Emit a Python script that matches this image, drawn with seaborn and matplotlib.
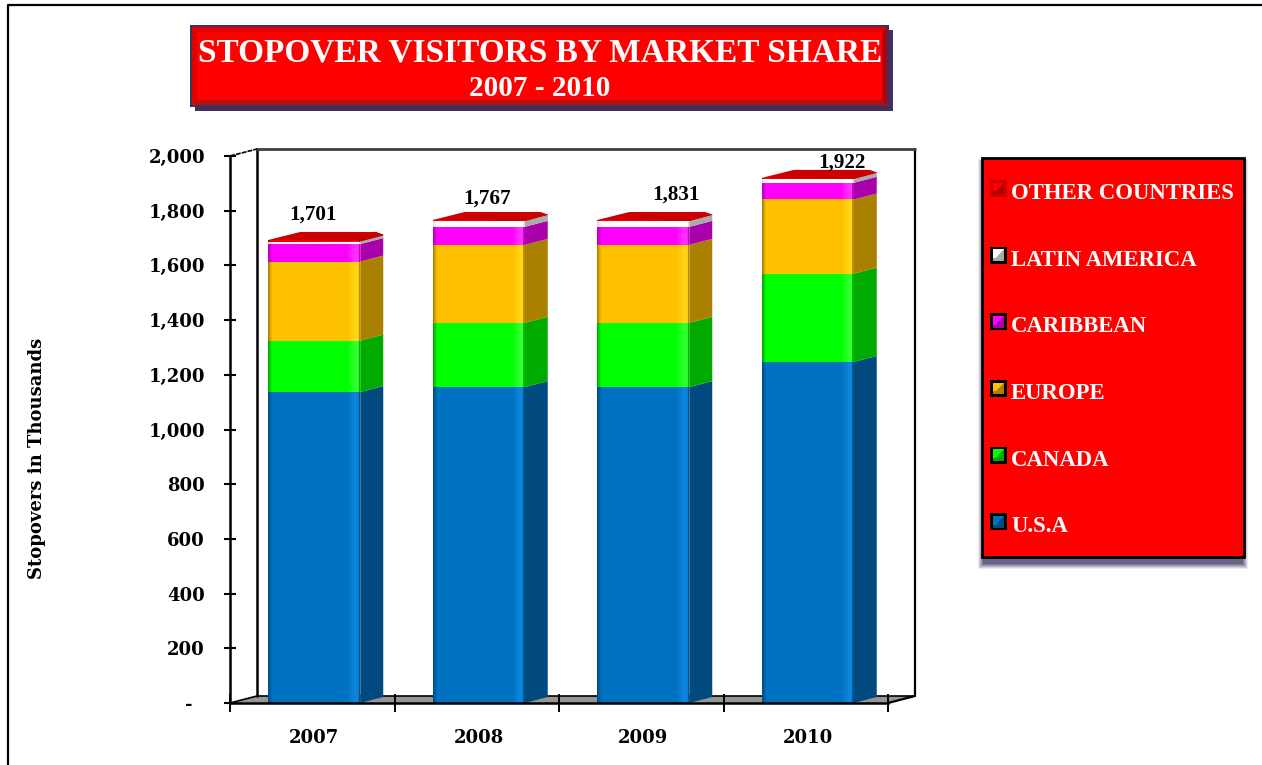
import matplotlib
matplotlib.use("Agg")
import matplotlib.pyplot as plt
import seaborn as sns
import numpy as np
import pandas as pd
from matplotlib.patches import Rectangle, Polygon, Patch
from matplotlib.legend_handler import HandlerBase

years = ["2007", "2008", "2009", "2010"]
usa = [1137, 1155, 1155, 1247]
canada = [188, 235, 235, 323]
europe = [289, 285, 285, 271]
caribbean = [64, 66, 66, 61]
latin_america = [9, 21, 21, 14]
other = [6, 4, 4, 4]
totals_labels = ["1,701", "1,767", "1,831", "1,922"]
series_names = ["U.S.A", "CANADA", "EUROPE", "CARIBBEAN", "LATIN AMERICA", "OTHER COUNTRIES"]
y_ticks = [0, 200, 400, 600, 800, 1000, 1200, 1400, 1600, 1800, 2000]
y_tick_labels = ["-\u00a0\u00a0", "200", "400", "600", "800", "1,000", "1,200", "1,400", "1,600", "1,800", "2,000"]

front = ["#0070C0", "#00FF00", "#FFC000", "#FF00FF", "#FFFFFF", "#FF0000"]
side = ["#004A80", "#00AA00", "#AA8000", "#AA00AA", "#AAAAAA", "#AA0000"]
hilite = ["#0C84DC", "#30FF30", "#FFD414", "#FF30FF", "#FFFFFF", "#FF2020"]
shade = ["#00406E", "#009000", "#8F6C00", "#A000A0", "#D0D0D0", "#A00000"]

W, H = 1262, 765
sns.set_theme(style="white")
serif = "Liberation Serif"
tickfont = "DejaVu Serif"
fig = plt.figure(figsize=(W / 100, H / 100), dpi=100, facecolor="white")

# page-level furniture, in pixel coordinates
bg = fig.add_axes([0, 0, 1, 1], zorder=0)
bg.set_xlim(0, W); bg.set_ylim(H, 0); bg.axis("off")
bg.plot([7.5, 7.5, W], [H, 4.5, 4.5], color="black", lw=1.6, solid_capstyle="butt")

# title box
NAVY = "#40305A"
bg.add_patch(Rectangle((195, 30), 698, 81, fc=NAVY, ec="none"))
bg.add_patch(Rectangle((190, 25), 699, 82, fc=NAVY, ec="none"))
bg.add_patch(Rectangle((192, 27), 695, 78, fc="#FF0000", ec="none"))
bg.add_patch(Polygon([(192, 27), (887, 27), (882, 32), (197, 32)], fc="#E60000", ec="none"))
bg.add_patch(Polygon([(192, 27), (197, 32), (197, 100), (192, 105)], fc="#E00000", ec="none"))
bg.add_patch(Polygon([(192, 105), (197, 100), (882, 100), (887, 105)], fc="#B81010", ec="none"))
bg.add_patch(Polygon([(887, 27), (882, 32), (882, 100), (887, 105)], fc="#B00010", ec="none"))
bg.text(540, 53, "STOPOVER VISITORS BY MARKET SHARE", family=serif, weight="bold",
        color="white", fontsize=24, ha="center", va="center")
bg.text(540, 88, "2007 - 2010", family=serif, weight="bold", color="white",
        fontsize=21, ha="center", va="center")

# legend box with soft shadow
for g, a in [(6, 0.10), (5, 0.14), (4, 0.18), (3, 0.22), (2, 0.28), (1, 0.32)]:
    bg.add_patch(Rectangle((984 - g, 165 - g), 258 + 2 * g, 398 + 2 * g, fc="#3E3160", ec="none", alpha=a))
bg.add_patch(Rectangle((982, 158), 262, 399, fc="#FF0000", ec="black", lw=2))

# 3D wall and floor
FRONT_L, FRONT_R, FRONT_B, FRONT_T = 230, 888, 703, 156
DX, DY = 27, 7
bg.add_patch(Polygon([(FRONT_L, FRONT_B), (FRONT_L + DX, FRONT_B - DY),
                      (FRONT_R + DX, FRONT_B - DY), (FRONT_R, FRONT_B)],
                     fc="#969696", ec="none"))
bg.plot([FRONT_L, FRONT_L + DX, FRONT_R + DX], [FRONT_B, FRONT_B - DY, FRONT_B - DY], color="black", lw=1.2)
bg.plot([FRONT_R, FRONT_R + DX, FRONT_R + DX], [FRONT_B, FRONT_B - DY, FRONT_T - DY], color="black", lw=1.6)
bg.plot([FRONT_L + DX, FRONT_L + DX], [FRONT_B - DY, FRONT_T - DY], color="black", lw=1.8)
bg.plot([FRONT_L + DX, FRONT_R + DX], [FRONT_T - DY, FRONT_T - DY], color="#404040", lw=2)
bg.plot([FRONT_L, FRONT_L + DX], [FRONT_T, FRONT_T - DY], color="black", lw=1.2, ls=(0, (3, 0.6)))

# chart axes: front plane of the 3D box
ax = fig.add_axes([FRONT_L / W, 1 - FRONT_B / H, (FRONT_R - FRONT_L) / W, (FRONT_B - FRONT_T) / H],
                  zorder=1, facecolor="none")
df = pd.DataFrame(dict(zip(series_names, [usa, canada, europe, caribbean, latin_america, other])), index=years)
bottom = np.zeros(len(years))
BAR_W = 92 / 164.5
for k, name in enumerate(series_names):
    sns.barplot(x=years, y=df[name].values, bottom=bottom, color=front[k], saturation=1,
                width=BAR_W, ax=ax, zorder=3, linewidth=0, order=years)
    bottom = bottom + df[name].values
ax.set_xlim(-0.5 - 2 / 164.5, 3.5 - 2 / 164.5)
ax.set_ylim(0, 2000)

px = 1 / 164.5         # one pixel in x data units
py = 2000 / (FRONT_B - FRONT_T)  # one pixel in y data units
bar_dx, bar_dy = 23 * px, 6 * py

cum = df.cumsum(axis=1)
for i, year in enumerate(years):
    x0, x1 = i - BAR_W / 2, i + BAR_W / 2
    low = 0
    for k, name in enumerate(series_names):
        high = cum.loc[year, name]
        # side face
        ax.add_patch(Polygon([(x1, low), (x1 + bar_dx, low + bar_dy), (x1 + bar_dx, high + bar_dy), (x1, high)],
                             fc=side[k], ec="none", zorder=2.5, clip_on=False))
        # front-face sheen: dark left edge, bright strip near the right edge
        for off, al in [(0, .75), (1, .5), (2, .3), (3, .15)]:
            ax.add_patch(Rectangle((x0 + off * px, low), 1 * px, high - low, fc=shade[k], ec="none",
                                   alpha=al, zorder=4))
        for off, al in [(12, .25), (10, .5), (8, .8), (6, 1), (4, 1), (3, .6)]:
            ax.add_patch(Rectangle((x1 - off * px, low), 2 * px, high - low, fc=hilite[k], ec="none",
                                   alpha=al, zorder=4))
        ax.add_patch(Rectangle((x1 - 1.5 * px, low), 1.5 * px, high - low, fc=shade[k], ec="none", alpha=.6, zorder=4))
        low = high
    # top face
    top = low
    ax.add_patch(Polygon([(x0, top), (x0 + 32 * px, top + 8 * py), (x0 + 108 * px, top + 8 * py),
                          (x0 + 115 * px, top + 5.5 * py), (x1, top - 1 * py)],
                         fc="#CC0000", ec="none", zorder=5, clip_on=False))

# total labels: placed over the bars
label_pos = [(0, 1784), (1, 1843), (2, 1860), (3, 1976)]
for (i, y), text in zip(label_pos, totals_labels):
    xoff = [-1, 8, 33, 34][i] * px
    ax.text(i + xoff, y, text, family=serif, weight="bold", fontsize=15.2, color="black",
            ha="center", va="center", zorder=6, clip_on=False)

# axes and ticks
for s in ["top", "right"]:
    ax.spines[s].set_visible(False)
for s in ["left", "bottom"]:
    ax.spines[s].set_color("black")
    ax.spines[s].set_linewidth(1.8)
    ax.spines[s].set_zorder(6)
ax.set_yticks(y_ticks)
ax.set_yticklabels(y_tick_labels, family=tickfont, weight="bold", fontsize=13, color="black")
ax.tick_params(axis="y", length=9, width=1.5, color="black", direction="inout", pad=13.5, left=True)
ax.set_xticks(range(4))
ax.set_xticklabels(years, family=tickfont, weight="bold", fontsize=13, color="black")
ax.tick_params(axis="x", which="major", length=0, pad=18.5)
ax.set_xticks(np.arange(5) - 0.5 - 2 / 164.5, minor=True)
ax.tick_params(axis="x", which="minor", length=12.5, width=1.4, color="black", direction="inout", bottom=True)
ax.set_ylabel("")
fig.text(37 / W, 1 - 458 / H, "Stopovers in Thousands", family=tickfont, weight="bold", fontsize=13,
         rotation=90, ha="center", va="center", color="black")

# legend with bevelled markers
class Bevel(HandlerBase):
    def __init__(self, color, dark, edge):
        super().__init__(); self.c, self.d, self.e = color, dark, edge
    def create_artists(self, legend, orig, x, y, w, h, fontsize, trans):
        s = 17 * 0.72
        y0 = y + (h - s) / 2 - 1.5
        m = 2.0
        outer = Rectangle((x, y0), s, s, fc=self.e, ec="none", transform=trans)
        inner = Rectangle((x + m, y0 + m), s - 2 * m, s - 2 * m, fc=self.c, ec="none", transform=trans)
        tri = Polygon([(x + m, y0 + m), (x + s - m, y0 + m), (x + s - m, y0 + s - m)],
                      fc=self.d, ec="none", transform=trans)
        strip = Rectangle((x + m, y0 + m), s - 2 * m, 2, fc=self.d, ec="none", transform=trans)
        return [outer, inner, tri, strip]

handles = [Patch(facecolor=front[k], label=series_names[k]) for k in range(5, -1, -1)]
hmap = {h: Bevel(front[k], side[k], "#D00000" if k == 5 else "black")
        for h, k in zip(handles, range(5, -1, -1))}
leg = fig.legend(handles=handles, handler_map=hmap, loc="upper left",
                 bbox_to_anchor=(990 / W, 1 - 181 / H), frameon=False, borderpad=0, borderaxespad=0,
                 labelspacing=1.917, handlelength=0.746, handleheight=1, handletextpad=0.18,
                 prop={"family": serif, "weight": "bold", "size": 16.4})
for t in leg.get_texts():
    t.set_color("white")
leg.set_zorder(5)

fig.savefig("out.png", dpi=100)
